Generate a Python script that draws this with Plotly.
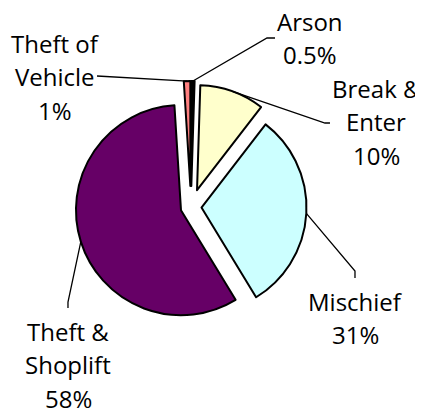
import math
import plotly.graph_objects as go

W, H = 423, 408

# slice data, clockwise from 12 o'clock
categories = ["Arson", "Break & Enter", "Mischief", "Theft & Shoplift", "Theft of Vehicle"]
values = [0.5, 10, 31, 58, 1]
pct_text = ["0.5%", "10%", "31%", "58%", "1%"]
name_lines = [["Arson"], ["Break &", "Enter"], ["Mischief"], ["Theft &", "Shoplift"], ["Theft of", "Vehicle"]]
colors = ["#000000", "#FFFFCC", "#CCFFFF", "#660066", "#FF8080"]
pulls = [0.2, 0.17, 0.1, 0.1, 0.2]

# pie placement in window pixels
cx, cy, r = 191, 207, 105
font_size = 24
line_gap = 33.5
page_offset = 8  # default body margin of the html page

# label text centre x, first baseline y, elbow point, leader end point
label_pos = [
    (310, 30, (267, 38), (275, 38)),
    (376, 97, (325, 123), (330, 123)),
    (355, 310, (355, 271), (355, 278)),
    (68, 340, (68, 302), (68, 308)),
    (55, 52, (97, 76), (97, 76)),
]


def px(x, y):
    return (x - page_offset) / W, 1 - (y - page_offset) / H


half = r * (1 + max(pulls))
x0, _ = px(cx - half, 0)
x1, _ = px(cx + half, 0)
_, y1 = px(0, cy - half)
_, y0 = px(0, cy + half)

fig = go.Figure(go.Pie(
    labels=categories,
    values=values,
    sort=False,
    direction="clockwise",
    rotation=0,
    pull=pulls,
    marker=dict(colors=colors, line=dict(color="black", width=2)),
    textinfo="none",
    hoverinfo="none",
    showlegend=False,
    domain=dict(x=[x0, x1], y=[y0, y1]),
))

total = sum(values)
shapes = []
annotations = []
cum = 0
for i, v in enumerate(values):
    mid = (cum + v / 2) / total * 2 * math.pi
    cum += v
    d = r * (1 + pulls[i])
    sx, sy = cx + d * math.sin(mid), cy - d * math.cos(mid)
    tx, ty, elbow, end = label_pos[i]
    pts = [(sx, sy), elbow, end]
    path = "M " + " L ".join("%.4f,%.4f" % px(*p) for p in pts)
    shapes.append(dict(type="path", path=path, xref="paper", yref="paper",
                       line=dict(color="black", width=1.3)))
    lines = name_lines[i] + [pct_text[i]]
    for k, t in enumerate(lines):
        ax, ay = px(tx, ty + k * line_gap - 0.36 * font_size)
        annotations.append(dict(text=t, x=ax, y=ay, xref="paper", yref="paper",
                                xanchor="center", yanchor="middle", showarrow=False,
                                font=dict(family="Open Sans", size=font_size, color="black")))

fig.update_layout(
    width=W, height=H,
    margin=dict(l=0, r=0, t=0, b=0),
    paper_bgcolor="white",
    shapes=shapes,
    annotations=annotations,
)

fig.write_html("out.html")
